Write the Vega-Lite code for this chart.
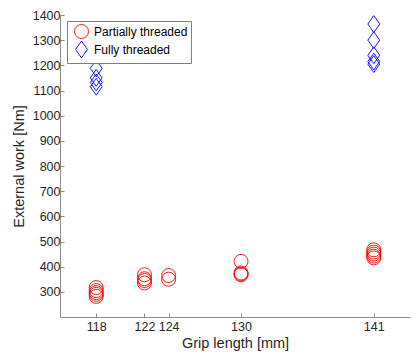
{
  "$schema": "https://vega.github.io/schema/vega-lite/v6.json",
  "width": 350,
  "height": 302,
  "autosize": {"type": "none"},
  "padding": {"left": 60, "top": 15, "right": 2, "bottom": 39},
  "background": "white",
  "config": {
    "view": {"stroke": null},
    "font": "Liberation Sans",
    "axis": {
      "grid": false,
      "domainColor": "#707070",
      "domainWidth": 0.8,
      "tickColor": "#707070",
      "tickWidth": 0.8,
      "tickSize": -4,
      "labelColor": "#262626",
      "labelFontSize": 12.5,
      "titleColor": "#262626",
      "titleFontSize": 14.5,
      "titleFontWeight": "normal",
      "labelFont": "Liberation Sans",
      "titleFont": "Liberation Sans"
    }
  },
  "data": {
    "values": [
      {"grip": 118, "work": 317, "type": "Partially threaded"},
      {"grip": 118, "work": 305, "type": "Partially threaded"},
      {"grip": 118, "work": 297, "type": "Partially threaded"},
      {"grip": 118, "work": 290, "type": "Partially threaded"},
      {"grip": 118, "work": 282, "type": "Partially threaded"},
      {"grip": 122, "work": 368, "type": "Partially threaded"},
      {"grip": 122, "work": 352, "type": "Partially threaded"},
      {"grip": 122, "work": 345, "type": "Partially threaded"},
      {"grip": 122, "work": 335, "type": "Partially threaded"},
      {"grip": 124, "work": 365, "type": "Partially threaded"},
      {"grip": 124, "work": 350, "type": "Partially threaded"},
      {"grip": 130, "work": 421, "type": "Partially threaded"},
      {"grip": 130, "work": 375, "type": "Partially threaded"},
      {"grip": 130, "work": 371, "type": "Partially threaded"},
      {"grip": 130, "work": 368, "type": "Partially threaded"},
      {"grip": 141, "work": 467, "type": "Partially threaded"},
      {"grip": 141, "work": 458, "type": "Partially threaded"},
      {"grip": 141, "work": 450, "type": "Partially threaded"},
      {"grip": 141, "work": 442, "type": "Partially threaded"},
      {"grip": 141, "work": 435, "type": "Partially threaded"},
      {"grip": 118, "work": 1188, "type": "Fully threaded"},
      {"grip": 118, "work": 1150, "type": "Fully threaded"},
      {"grip": 118, "work": 1132, "type": "Fully threaded"},
      {"grip": 118, "work": 1115, "type": "Fully threaded"},
      {"grip": 141, "work": 1364, "type": "Fully threaded"},
      {"grip": 141, "work": 1300, "type": "Fully threaded"},
      {"grip": 141, "work": 1240, "type": "Fully threaded"},
      {"grip": 141, "work": 1215, "type": "Fully threaded"},
      {"grip": 141, "work": 1205, "type": "Fully threaded"}
    ]
  },
  "mark": {"type": "point", "filled": false, "strokeWidth": 0.9, "size": 196, "opacity": 1},
  "encoding": {
    "x": {
      "field": "grip", "type": "quantitative",
      "scale": {"domain": [115, 144], "nice": false, "zero": false},
      "axis": {"values": [118, 122, 124, 130, 141], "format": "d", "title": "Grip length [mm]", "labelPadding": 7, "titlePadding": 4}
    },
    "y": {
      "field": "work", "type": "quantitative",
      "scale": {"domain": [200, 1400], "nice": false, "zero": false},
      "axis": {"values": [300, 400, 500, 600, 700, 800, 900, 1000, 1100, 1200, 1300, 1400], "format": "d", "title": "External work [Nm]", "labelPadding": 4, "titlePadding": 6}
    },
    "color": {
      "field": "type", "type": "nominal",
      "scale": {"domain": ["Partially threaded", "Fully threaded"], "range": ["#ff0000", "#0000ff"]},
      "legend": {
        "title": null, "orient": "none", "legendX": 7, "legendY": 6,
        "strokeColor": "#808080", "fillColor": "white",
        "padding": 3, "symbolOffset": 4, "labelFontSize": 12, "labelColor": "#000000",
        "symbolSize": 196, "symbolStrokeWidth": 0.9, "rowPadding": -2, "labelOffset": 5
      }
    },
    "shape": {
      "field": "type", "type": "nominal",
      "scale": {"domain": ["Partially threaded", "Fully threaded"], "range": ["circle", "M0,-1.2L0.85,0L0,1.2L-0.85,0Z"]}
    }
  }
}
